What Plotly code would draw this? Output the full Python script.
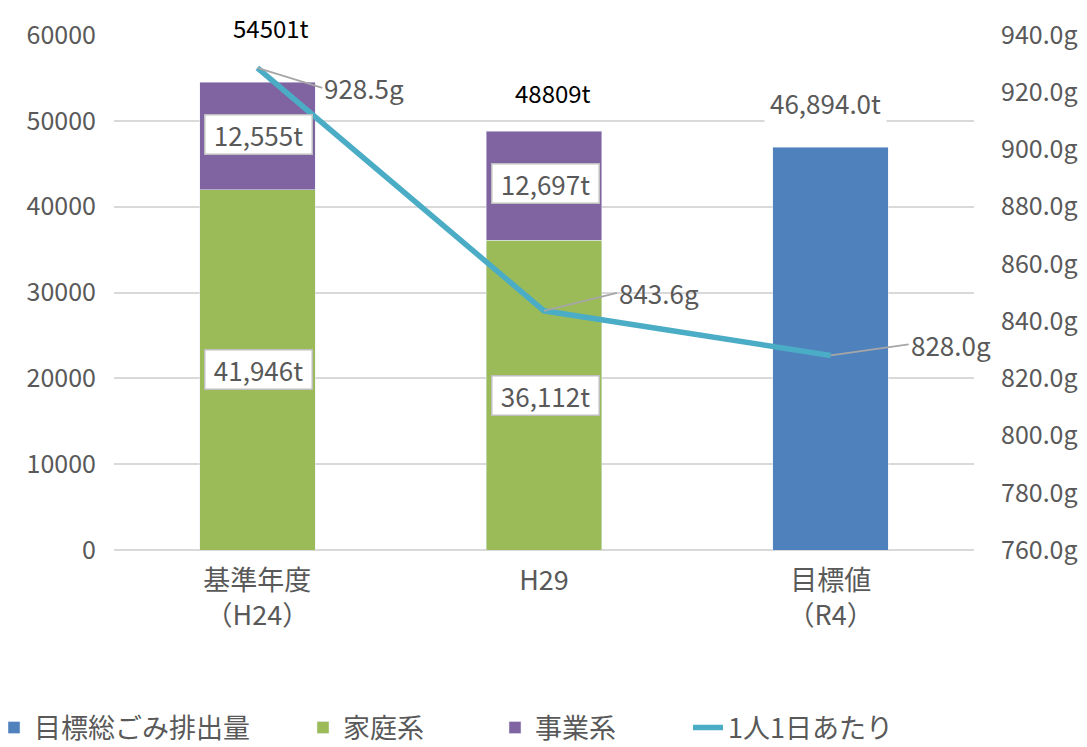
import plotly.graph_objects as go

categories = ["基準年度<br>（H24）", "H29", "目標値<br>（R4）"]
target_total = [None, None, 46894.0]
household = [41946, 36112, None]
business = [12555, 12697, None]
per_capita = [928.5, 843.6, 828.0]
totals = [54501, 48809]

left_ticks = [0, 10000, 20000, 30000, 40000, 50000, 60000]
right_ticks = [760, 780, 800, 820, 840, 860, 880, 900, 920, 940]

FONT = "Noto Sans CJK JP, Noto Sans, sans-serif"
GRAY = "#595959"

W, H = 1079, 739  # page has an 8px body margin
ML, MR = 106, 113
PW = W - ML - MR

fig = go.Figure()
fig.add_trace(go.Bar(name="目標総ごみ排出量", x=categories, y=target_total,
                     marker_color="#4F81BD", legend="legend"))
fig.add_trace(go.Bar(name="家庭系", x=categories, y=household,
                     marker_color="#9BBB59", legend="legend2"))
fig.add_trace(go.Bar(name="事業系", x=categories, y=business,
                     marker_color="#8064A2", legend="legend3"))
fig.add_trace(go.Scatter(name="1人1日あたり", x=categories, y=per_capita, yaxis="y2",
                         mode="lines", line=dict(color="#4BACC6", width=5.5), legend="legend4"))

ann = []
box = dict(showarrow=False, bgcolor="white", bordercolor="#BFBFBF", borderwidth=1.5,
           borderpad=1, width=104, height=36, align="center",
           font=dict(size=26, color=GRAY, family=FONT))
for i in range(2):
    ann.append(dict(x=categories[i], y=household[i] / 2, text=f"{household[i]:,}t",
                    xshift=1, **box))
    ann.append(dict(x=categories[i], y=household[i] + business[i] / 2, text=f"{business[i]:,}t",
                    xshift=1, yshift=2, **box))
ann.append(dict(x=categories[0], y=totals[0], text=f"{totals[0]}t", showarrow=False,
                xshift=14, yshift=55, bgcolor="white", borderpad=4,
                font=dict(size=24, color="black", family=FONT)))
ann.append(dict(x=categories[1], y=totals[1], text=f"{totals[1]}t", showarrow=False,
                xshift=9, yshift=39, font=dict(size=24, color="black", family=FONT)))
ann.append(dict(x=categories[2], y=target_total[2], text=f"{target_total[2]:,.1f}t", showarrow=False,
                xshift=-5, yshift=45, bgcolor="white", borderpad=5,
                font=dict(size=26, color=GRAY, family=FONT)))
offsets = [(65, 20), (73, -18), (78, -11)]
for i in range(3):
    ann.append(dict(x=categories[i], y=per_capita[i], yref="y2", text=f"{per_capita[i]:.1f}g",
                    showarrow=True, arrowhead=0, arrowwidth=1.8, arrowcolor="#A6A6A6",
                    ax=offsets[i][0], ay=offsets[i][1], xanchor="left", yanchor="middle",
                    font=dict(size=26, color=GRAY, family=FONT)))

def leg(xpx):
    # xpx: figure pixel of legend's left edge, expressed in paper coords
    return dict(orientation="h", xref="paper", yref="container",
                x=(xpx - ML) / PW, xanchor="left", y=19 / H, yanchor="middle",
                font=dict(size=27, color=GRAY, family=FONT), itemwidth=30,
                bgcolor="rgba(0,0,0,0)")

fig.update_layout(
    width=W, height=H,
    barmode="stack", bargap=0.597,
    plot_bgcolor="white", paper_bgcolor="white",
    margin=dict(l=ML, r=MR, t=27, b=197, autoexpand=False),
    font=dict(family=FONT, color=GRAY, size=20),
    xaxis=dict(tickfont=dict(size=27, color=GRAY), showgrid=False, showline=False, ticks="",
               automargin=False, ticklabelstandoff=12, range=[-0.5, 2.5]),
    yaxis=dict(range=[0, 60000], tickvals=left_ticks, tickformat="d",
               showgrid=True, gridcolor="#D9D9D9", gridwidth=1.5, zeroline=True,
               zerolinecolor="#D9D9D9", zerolinewidth=1.5, automargin=False,
               tickfont=dict(size=25, color=GRAY), ticklabelstandoff=17),
    yaxis2=dict(range=[760, 940], tickvals=right_ticks, ticktext=[f"{v:.1f}g" for v in right_ticks],
                overlaying="y", side="right", showgrid=False, zeroline=False, automargin=False,
                tickfont=dict(size=25, color=GRAY), ticklabelstandoff=26),
    legend=leg(-14),
    legend2=leg(295),
    legend3=leg(487),
    legend4=leg(680),
    annotations=ann,
    showlegend=True,
)

fig.write_html("out.html")
